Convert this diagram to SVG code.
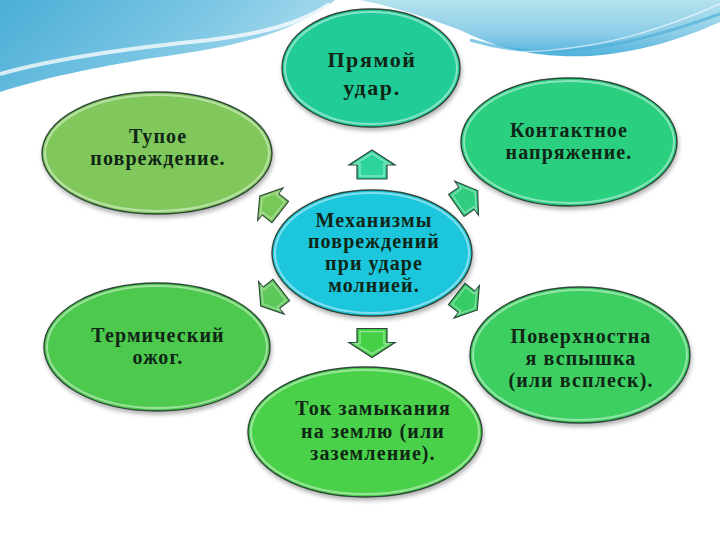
<svg xmlns="http://www.w3.org/2000/svg" width="720" height="540" viewBox="0 0 720 540">
<defs>
<linearGradient id="bgL" x1="0" y1="0" x2="1" y2="0.3">
<stop offset="0" stop-color="#4aaed6"/><stop offset="0.6" stop-color="#7cc6e4"/><stop offset="1" stop-color="#a9dcee"/>
</linearGradient>
<linearGradient id="bgR" x1="0" y1="0" x2="0" y2="1">
<stop offset="0" stop-color="#b4e2ee"/><stop offset="0.6" stop-color="#8ccde8"/><stop offset="1" stop-color="#4fb2dc"/>
</linearGradient>
<filter id="sh" x="-10%" y="-10%" width="120%" height="125%">
<feDropShadow dx="1" dy="3" stdDeviation="2" flood-color="#000" flood-opacity="0.3"/>
</filter>
<path id="arr" d="M0,-14.5 L23,0.5 L15,0.5 L15,14.5 L-15,14.5 L-15,0.5 L-23,0.5 Z"/>
<path id="arrIn" d="M0,-11 L17,-0.5 L12,-0.5 L12,11.5 L-12,11.5 L-12,-0.5 L-17,-0.5 Z"/>
</defs>
<style>
.node{stroke:#2e4638;stroke-width:1.4;filter:url(#sh)}
.rim{fill:none;stroke:#ffffff;stroke-opacity:0.45;stroke-width:2}
.lbl{font-family:"Liberation Serif","DejaVu Serif",serif;font-weight:bold;font-size:20px;letter-spacing:1.1px;fill:#0f2616;text-anchor:middle}
.big{font-size:22px;letter-spacing:1.6px}
.ar{stroke:#2e4638;stroke-width:1.2}
.arin{fill:none;stroke:#ffffff;stroke-opacity:0.4;stroke-width:1.5}
</style>
<rect width="720" height="540" fill="#ffffff"/>
<g id="background">
<path d="M0,0 H335 C300,28 250,44 180,54 C110,64 50,76 0,92 Z" fill="url(#bgL)"/>
<path d="M0,74 C60,57 140,47 210,40 C260,34 300,24 330,4" fill="none" stroke="#ffffff" stroke-opacity="0.75" stroke-width="4"/>
<path d="M360,0 H720 V22 C680,40 640,52 590,56 C540,58 500,50 460,30 C420,15 390,6 360,0 Z" fill="url(#bgR)"/>
<path d="M470,40 C530,58 600,58 720,14" fill="none" stroke="#4fb0da" stroke-width="3" stroke-opacity="0.7"/>
<path d="M520,52 C590,50 650,35 720,4" fill="none" stroke="#ffffff" stroke-width="1.5" stroke-opacity="0.6"/>
</g>
<g id="connectors">
<g transform="translate(372,164.5)"><use href="#arr" class="ar" fill="#2fd49a"/><use href="#arrIn" class="arin"/></g>
<g transform="translate(372,343) rotate(180)"><use href="#arr" class="ar" fill="#45d045"/><use href="#arrIn" class="arin"/></g>
<g transform="translate(270,204) rotate(-52) scale(0.9)"><use href="#arr" class="ar" fill="#78c858"/><use href="#arrIn" class="arin"/></g>
<g transform="translate(271,298) rotate(-128) scale(0.9)"><use href="#arr" class="ar" fill="#5ec85a"/><use href="#arrIn" class="arin"/></g>
<g transform="translate(467,198) rotate(55) scale(0.9)"><use href="#arr" class="ar" fill="#30cc80"/><use href="#arrIn" class="arin"/></g>
<g transform="translate(467,302) rotate(128) scale(0.9)"><use href="#arr" class="ar" fill="#36cc66"/><use href="#arrIn" class="arin"/></g>
</g>
<g id="n-top">
<ellipse class="node" cx="371" cy="68" rx="89" ry="59" fill="#22cc99"/>
<ellipse class="rim" cx="371" cy="68" rx="86" ry="56"/>
<text class="lbl big" x="372" y="67">Прямой</text>
<text class="lbl big" x="372" y="95">удар.</text>
</g>
<g id="n-tl">
<ellipse class="node" cx="157" cy="153" rx="115" ry="61" fill="#80c85c"/>
<ellipse class="rim" cx="157" cy="153" rx="112" ry="58"/>
<text class="lbl" x="158" y="143">Тупое</text>
<text class="lbl" x="158" y="165">повреждение.</text>
</g>
<g id="n-tr">
<ellipse class="node" cx="569" cy="142" rx="108" ry="64" fill="#2ccf80"/>
<ellipse class="rim" cx="569" cy="142" rx="105" ry="61"/>
<text class="lbl" x="569" y="137">Контактное</text>
<text class="lbl" x="569" y="159">напряжение.</text>
</g>
<g id="n-center">
<ellipse class="node" cx="372" cy="253" rx="100" ry="63" fill="#1fc6dc"/>
<ellipse class="rim" cx="372" cy="253" rx="97" ry="60"/>
<text class="lbl" x="374" y="227">Механизмы</text>
<text class="lbl" x="374" y="248">повреждений</text>
<text class="lbl" x="374" y="270">при ударе</text>
<text class="lbl" x="374" y="292">молнией.</text>
</g>
<g id="n-bl">
<ellipse class="node" cx="157" cy="347" rx="113" ry="64" fill="#4ec94e"/>
<ellipse class="rim" cx="157" cy="347" rx="110" ry="61"/>
<text class="lbl" x="158" y="342">Термический</text>
<text class="lbl" x="158" y="364">ожог.</text>
</g>
<g id="n-br">
<ellipse class="node" cx="580" cy="355" rx="110" ry="68" fill="#3dcf62"/>
<ellipse class="rim" cx="580" cy="355" rx="107" ry="65"/>
<text class="lbl" x="581" y="343">Поверхностна</text>
<text class="lbl" x="581" y="365">я вспышка</text>
<text class="lbl" x="581" y="387">(или всплеск).</text>
</g>
<g id="n-bottom">
<ellipse class="node" cx="365" cy="432" rx="117" ry="65" fill="#4ad24a"/>
<ellipse class="rim" cx="365" cy="432" rx="114" ry="62"/>
<text class="lbl" x="373" y="415">Ток замыкания</text>
<text class="lbl" x="373" y="438">на землю (или</text>
<text class="lbl" x="373" y="460">заземление).</text>
</g>
</svg>
